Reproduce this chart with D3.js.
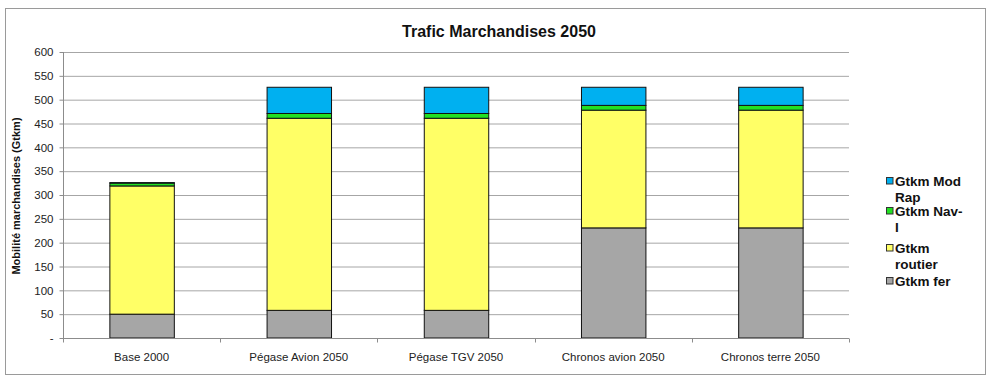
<!DOCTYPE html>
<html><head><meta charset="utf-8">
<script src="https://cdn.jsdelivr.net/npm/d3@7"></script>
<style>body{margin:0;background:#fff}svg{display:block;font-family:"Liberation Sans",Arial,sans-serif}</style>
</head><body>
<svg id="c" width="986" height="376"></svg>
<script>
const categories = ["Base 2000","Pégase Avion 2050","Pégase TGV 2050","Chronos avion 2050","Chronos terre 2050"];
const seriesNames = ["Gtkm fer","Gtkm routier","Gtkm Nav-I","Gtkm Mod Rap"];
const fer     = [50, 58, 58, 231, 231];
const routier = [269, 403, 403, 247, 247];
const navI    = [6, 10, 10, 10, 10];
const modRap  = [1, 55, 55, 38, 38];
const yTicks  = [0,50,100,150,200,250,300,350,400,450,500,550,600];
const legendLines = [["Gtkm Mod","Rap"],["Gtkm Nav-","I"],["Gtkm","routier"],["Gtkm fer"]];
const colors = ["#A6A6A6","#FFFF66","#22E022","#00B0F0"];

const svg = d3.select("#c");
svg.append("rect").attr("x",5.5).attr("y",8.5).attr("width",980).attr("height",366)
  .attr("fill","#fff").attr("stroke","#9a9a9a").attr("stroke-width",1);

const L=63, R=849, T=52, B=338;
const x = d3.scaleBand().domain(categories).range([L,R]).paddingInner(0.59).paddingOuter(0.295);
const y = d3.scaleLinear().domain([0,600]).range([B,T]);

// gridlines
svg.append("g").selectAll("line").data(yTicks.filter(d=>d>0)).join("line")
  .attr("x1",L).attr("x2",R).attr("y1",d=>y(d)+0.5).attr("y2",d=>y(d)+0.5)
  .attr("stroke","#a6a6a6").attr("stroke-width",1);

// y axis
const ya = svg.append("g").attr("transform",`translate(${L+0.5},0)`)
  .call(d3.axisLeft(y).tickValues(yTicks).tickSize(4).tickPadding(6).tickFormat(d=>d===0?"-":d));
ya.select(".domain").attr("stroke","#8c8c8c").attr("d",`M0,${T}V${B}`);
ya.selectAll(".tick line").attr("stroke","#8c8c8c");
ya.selectAll("text").attr("font-size",11.5).attr("fill","#222").attr("font-family","Liberation Sans, Arial, sans-serif");

// stacked bars
const rows = categories.map((c,i)=>({cat:c, fer:fer[i], routier:routier[i], navI:navI[i], modRap:modRap[i]}));
const stack = d3.stack().keys(["fer","routier","navI","modRap"])(rows);
svg.append("g").selectAll("g").data(stack).join("g")
  .attr("fill",(d,i)=>colors[i])
  .selectAll("rect").data(d=>d).join("rect")
  .attr("x",d=>x(d.data.cat)+0.5).attr("width",x.bandwidth())
  .attr("y",d=>y(d[1])).attr("height",d=>y(d[0])-y(d[1]))
  .attr("stroke","#111").attr("stroke-width",1);

// x axis
const xa = svg.append("g").attr("transform",`translate(0,${B+0.5})`);
xa.append("line").attr("x1",L).attr("x2",R).attr("stroke","#8c8c8c");
const bounds = d3.range(categories.length+1).map(i=>L+i*(R-L)/categories.length);
xa.selectAll("line.t").data(bounds).join("line").attr("class","t")
  .attr("x1",d=>Math.round(d)+0.5).attr("x2",d=>Math.round(d)+0.5).attr("y1",0).attr("y2",4).attr("stroke","#8c8c8c");
xa.selectAll("text").data(categories).join("text")
  .attr("x",d=>x(d)+x.bandwidth()/2).attr("y",22)
  .attr("text-anchor","middle").attr("font-size",11.5).attr("fill","#222").text(d=>d);

// title
svg.append("text").attr("x",499).attr("y",37).attr("text-anchor","middle")
  .attr("font-size",16).attr("font-weight","bold").attr("fill","#111").text("Trafic Marchandises 2050");

// y title
svg.append("text").attr("transform","translate(20,196) rotate(-90)").attr("text-anchor","middle")
  .attr("font-size",11).attr("font-weight","bold").attr("fill","#111").text("Mobilité marchandises (Gtkm)");

// legend (top to bottom: Mod Rap, Nav-I, routier, fer)
const legTop = [177, 207, 244, 277];
const lg = svg.append("g");
legendLines.forEach((lines,k)=>{
  const ci = 3-k;
  const g = lg.append("g").attr("transform",`translate(886,${legTop[k]})`);
  g.append("rect").attr("x",0.5).attr("y",0.5).attr("width",6.5).attr("height",6.5)
    .attr("fill",colors[ci]).attr("stroke","#333");
  lines.forEach((t,j)=>g.append("text").attr("x",9).attr("y",9+j*16)
    .attr("font-size",13.5).attr("font-weight","bold").attr("fill","#111").text(t));
});
</script>
</body></html>
